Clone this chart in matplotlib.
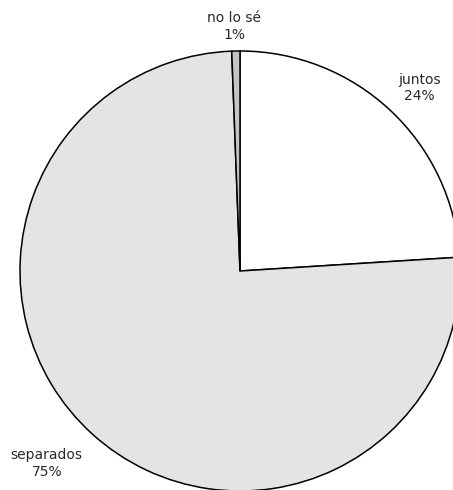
import matplotlib.pyplot as plt
import numpy as np

categorias = ['juntos', 'separados', 'no lo sé']
porcentajes = [24.0, 75.4, 0.6]
colores = ['#ffffff', '#e4e4e4', '#c4c4c4']

W, H = 453, 490
fig = plt.figure(figsize=(W / 100, H / 100), dpi=100)
# pie centre at (240, 271) px, radius 220 px; it runs off the right and bottom edges
cx, cy, r = 240, 271, 220
ax = fig.add_axes([(cx - r) / W, (H - cy - r) / H, 2 * r / W, 2 * r / H])

wedges, _ = ax.pie(porcentajes, colors=colores, startangle=90, counterclock=False,
                   radius=1, center=(0, 0), frame=True,
                   wedgeprops=dict(edgecolor='black', linewidth=1.1, clip_on=False))
ax.set_xlim(-1, 1)
ax.set_ylim(-1, 1)
ax.axis('off')

# label distance / angle shift for each slice
dist = [1.165, 1.24, 1.11]
shift = [-1.2, -3, 0.3]
for w, cat, p, d, s in zip(wedges, categorias, porcentajes, dist, shift):
    ang = np.deg2rad((w.theta1 + w.theta2) / 2 + s)
    ax.text(d * np.cos(ang), d * np.sin(ang), f'{cat}\n{p:.0f}%', ha='center', va='center',
            fontsize=10, color='#2a2a2a', linespacing=1.25, clip_on=False)

fig.savefig('out.png', dpi=100)
